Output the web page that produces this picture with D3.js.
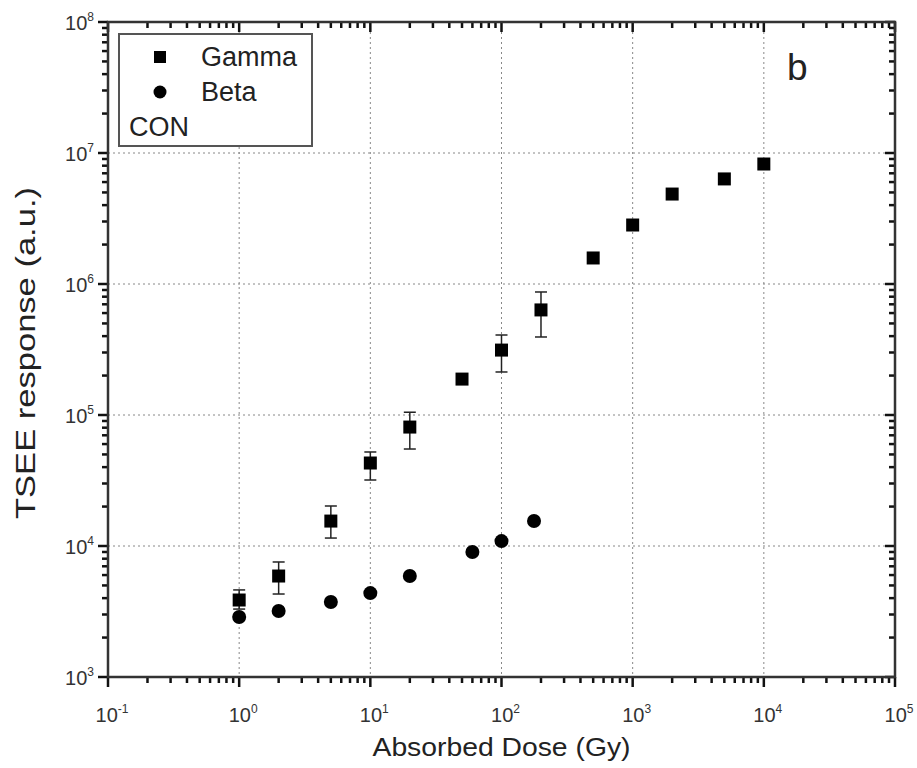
<!DOCTYPE html>
<html>
<head>
<meta charset="utf-8">
<script src="https://cdn.jsdelivr.net/npm/d3@7"></script>
<style>
  body { margin: 0; background: #fff; }
  svg text { font-family: "Liberation Sans", Arial, sans-serif; }
</style>
</head>
<body>
<svg id="chart" width="917" height="768"></svg>
<script>
// Gamma series (dose in Gy, TSEE response, error bar bounds)
const gammaDose = [1, 2, 5, 10, 20, 50, 100, 200, 500, 1000, 2000, 5000, 10000];
const gammaResp = [3870, 5900, 15500, 43000, 80900, 188000, 313000, 634000, 1580000, 2820000, 4860000, 6340000, 8240000];
const gammaLow  = [3300, 4300, 11500, 31900, 55000, null, 213000, 394000, null, null, null, null, null];
const gammaHigh = [4620, 7550, 20200, 52200, 105000, null, 408000, 869000, null, null, null, null, null];

// Beta series
const betaDose = [1, 2, 5, 10, 20, 60, 100, 177];
const betaResp = [2870, 3190, 3740, 4370, 5900, 8990, 10900, 15500];

const xMajor = [1e-1, 1e0, 1e1, 1e2, 1e3, 1e4, 1e5];
const yMajor = [1e3, 1e4, 1e5, 1e6, 1e7, 1e8];

const svg = d3.select("#chart");
const mLeft = 108, mRight = 895, mTop = 22, mBottom = 677;

const x = d3.scaleLog().domain([0.1, 1e5]).range([mLeft, mRight]);
const y = d3.scaleLog().domain([1e3, 1e8]).range([mBottom, mTop]);

// minor tick values: 2..9 within each decade
function minors(majors) {
  const out = [];
  for (let i = 0; i < majors.length - 1; i++)
    for (let k = 2; k <= 9; k++) out.push(majors[i] * k);
  return out;
}
const xMinor = minors(xMajor), yMinor = minors(yMajor);

// dotted grid at major decades
const grid = svg.append("g").attr("stroke", "#888").attr("stroke-width", 1).attr("stroke-dasharray", "2,3");
xMajor.slice(1, -1).forEach(v => {
  grid.append("line").attr("x1", x(v)).attr("x2", x(v)).attr("y1", mTop).attr("y2", mBottom);
});
yMajor.slice(1, -1).forEach(v => {
  grid.append("line").attr("x1", mLeft).attr("x2", mRight).attr("y1", y(v)).attr("y2", y(v));
});

// ticks: bottom/left point outward, top/right point inward
const tickG = svg.append("g").attr("stroke", "#111").attr("stroke-width", 2.5);
const xTicks = xMajor.map(v => ({ v, len: 10 })).concat(xMinor.map(v => ({ v, len: 6 })));
const yTicks = yMajor.map(v => ({ v, len: 10 })).concat(yMinor.map(v => ({ v, len: 6 })));
xTicks.forEach(d => {
  const px = x(d.v);
  tickG.append("line").attr("x1", px).attr("x2", px).attr("y1", mBottom).attr("y2", mBottom + d.len);
  tickG.append("line").attr("x1", px).attr("x2", px).attr("y1", mTop).attr("y2", mTop + d.len);
});
yTicks.forEach(d => {
  const py = y(d.v);
  tickG.append("line").attr("x1", mLeft - d.len).attr("x2", mLeft).attr("y1", py).attr("y2", py);
  tickG.append("line").attr("x1", mRight - d.len).attr("x2", mRight).attr("y1", py).attr("y2", py);
});

// frame
svg.append("rect").attr("x", mLeft).attr("y", mTop).attr("width", mRight - mLeft).attr("height", mBottom - mTop)
  .attr("fill", "none").attr("stroke", "#333").attr("stroke-width", 2.5);

// tick labels as 10 with superscript exponent
function powLabel(g, px, py, exp, anchor) {
  const t = g.append("text").attr("x", px).attr("y", py).attr("text-anchor", anchor)
    .attr("font-size", 20).attr("fill", "#333");
  t.append("tspan").text("10");
  t.append("tspan").attr("dy", -9).attr("font-size", 12).text(exp);
}
const labels = svg.append("g");
xMajor.forEach(v => powLabel(labels, x(v) + 4, 722, Math.round(Math.log10(v)), "middle"));
yMajor.forEach(v => powLabel(labels, mLeft - 14, y(v) + 8, Math.round(Math.log10(v)), "end"));

// axis titles
svg.append("text").attr("x", (mLeft + mRight) / 2).attr("y", 756).attr("text-anchor", "middle")
  .attr("font-size", 26).attr("textLength", 258).attr("lengthAdjust", "spacingAndGlyphs")
  .attr("fill", "#222").text("Absorbed Dose (Gy)");
svg.append("text").attr("transform", `translate(35,353) rotate(-90)`)
  .attr("text-anchor", "middle").attr("font-size", 27).attr("textLength", 332)
  .attr("lengthAdjust", "spacingAndGlyphs").attr("fill", "#222").text("TSEE response (a.u.)");

// error bars
const err = svg.append("g").attr("stroke", "#222").attr("stroke-width", 1.5);
gammaDose.forEach((d, i) => {
  if (gammaLow[i] == null) return;
  const cx = x(d);
  err.append("line").attr("x1", cx).attr("x2", cx).attr("y1", y(gammaHigh[i])).attr("y2", y(gammaLow[i]));
  [gammaHigh[i], gammaLow[i]].forEach(v => {
    err.append("line").attr("x1", cx - 6).attr("x2", cx + 6).attr("y1", y(v)).attr("y2", y(v));
  });
});

// markers
svg.append("g").selectAll("rect").data(gammaDose).join("rect")
  .attr("x", (d) => x(d) - 6.5).attr("y", (d, i) => y(gammaResp[i]) - 6.5)
  .attr("width", 13).attr("height", 13).attr("fill", "#000");
svg.append("g").selectAll("circle").data(betaDose).join("circle")
  .attr("cx", d => x(d)).attr("cy", (d, i) => y(betaResp[i])).attr("r", 7).attr("fill", "#000");

// legend
const lg = svg.append("g");
lg.append("rect").attr("x", 119).attr("y", 34).attr("width", 193).attr("height", 112)
  .attr("fill", "#fff").attr("stroke", "#555").attr("stroke-width", 2);
lg.append("rect").attr("x", 154).attr("y", 51).attr("width", 12).attr("height", 12).attr("fill", "#000");
lg.append("circle").attr("cx", 160).attr("cy", 92).attr("r", 6.5).attr("fill", "#000");
lg.append("text").attr("x", 201).attr("y", 66).attr("font-size", 27).attr("fill", "#222").text("Gamma");
lg.append("text").attr("x", 201).attr("y", 101).attr("font-size", 27).attr("fill", "#222").text("Beta");
lg.append("text").attr("x", 129).attr("y", 136).attr("font-size", 27).attr("fill", "#222").text("CON");

// panel letter
svg.append("text").attr("x", 787).attr("y", 80).attr("font-size", 37).attr("fill", "#222").text("b");
</script>
</body>
</html>
